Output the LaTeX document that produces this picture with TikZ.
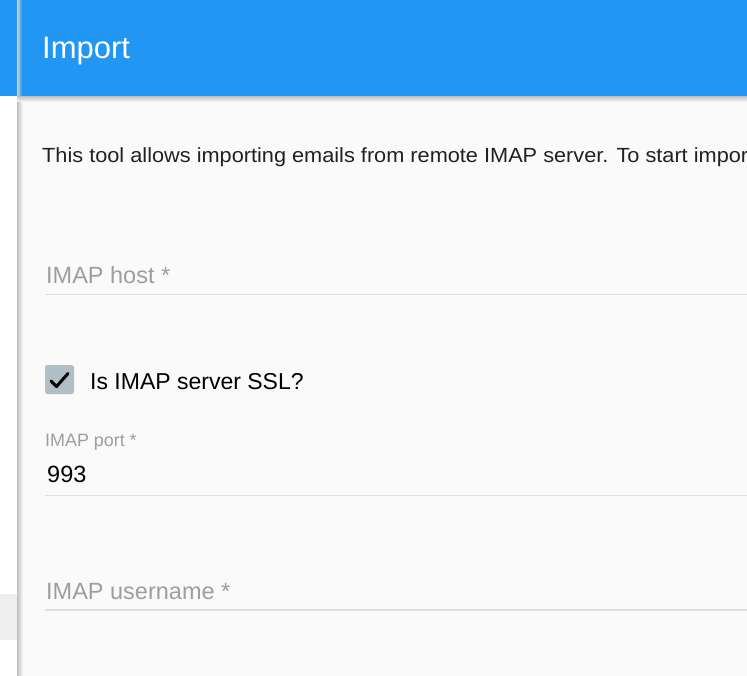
\documentclass[tikz,border=0pt]{standalone}
\usepackage{fontspec}
\setmainfont{Liberation Sans}
\usetikzlibrary{positioning}
\definecolor{barblue}{HTML}{2196F3}
\definecolor{panelbg}{HTML}{FAFAFA}
\definecolor{hintgray}{HTML}{9E9E9E}
\definecolor{rulegray}{HTML}{DDDDDD}
\definecolor{boxgray}{HTML}{B0BEC5}
\definecolor{inktext}{HTML}{212121}
\definecolor{stripgray}{HTML}{EEEEEE}
\begin{document}
\begin{tikzpicture}[x=1pt,y=-1pt,
  title/.style={anchor=base west,inner sep=0pt,text=white,font=\fontsize{31}{31}\selectfont},
  intro/.style={anchor=base west,inner sep=0pt,text=inktext,xscale=1.06,font=\fontsize{20.5}{20.5}\selectfont},
  hint/.style={anchor=base west,inner sep=0pt,text=hintgray,font=\fontsize{23.5}{23.5}\selectfont},
  hintS/.style={hint,font=\fontsize{17.9}{17.9}\selectfont},
  value/.style={anchor=base west,inner sep=0pt,text=black,font=\fontsize{23.5}{23.5}\selectfont},
  field/.style={draw=rulegray,line width=1.5pt},
  tickbox/.style={fill=boxgray,rounded corners=2.5pt}]
\def\W{747};
\def\H{676};
\def\px{17};

\useasboundingbox (0,0) rectangle (\W,\H);
\fill[white] (0,0) rectangle (\W,\H);
\fill[panelbg] (\px,96) rectangle (\W,\H);
\fill[stripgray] (0,594) rectangle (\px,640);

% shadows
\shade[left color=black!25,right color=panelbg] (\px,96) rectangle (\px+6,\H);
\shade[top color=black!25,bottom color=panelbg] (\px,96) rectangle (\W,102);
\fill[barblue] (0,0) rectangle (\W,96);
\shade[left color=black!18,right color=barblue] (\px,0) rectangle (\px+5,96);

\node[title] (T) at (42,59) {Import};
\node[intro] (I) at (42,162.5) {This tool allows importing emails from remote IMAP server. To start impor};

\node[hint] (H) at (46,283.5) {IMAP host *};
\coordinate (H1) at (45,294.5);
\coordinate (H2) at (\W,294.5);
\draw[field] (H1) -- (H2);

\fill[tickbox] (45,365) rectangle (74,394);
\draw[line width=3pt,line cap=round,line join=round] (51,381) -- (56.5,386.5) -- (68,373.5);
\node[value,font=\fontsize{23}{23}\selectfont] (S) at (90,389) {Is IMAP server SSL?};

\node[hintS] (P) at (45,446.5) {IMAP port *};
\node[value] (V) at (47,482.5) {993};
\coordinate (P1) at (45,495.5);
\coordinate (P2) at (\W,495.5);
\draw[field] (P1) -- (P2);

\node[hint] (U) at (46,599) {IMAP username *};
\coordinate (U1) at (45,610);
\coordinate (U2) at (\W,610);
\draw[field] (U1) -- (U2);
\end{tikzpicture}
\end{document}
